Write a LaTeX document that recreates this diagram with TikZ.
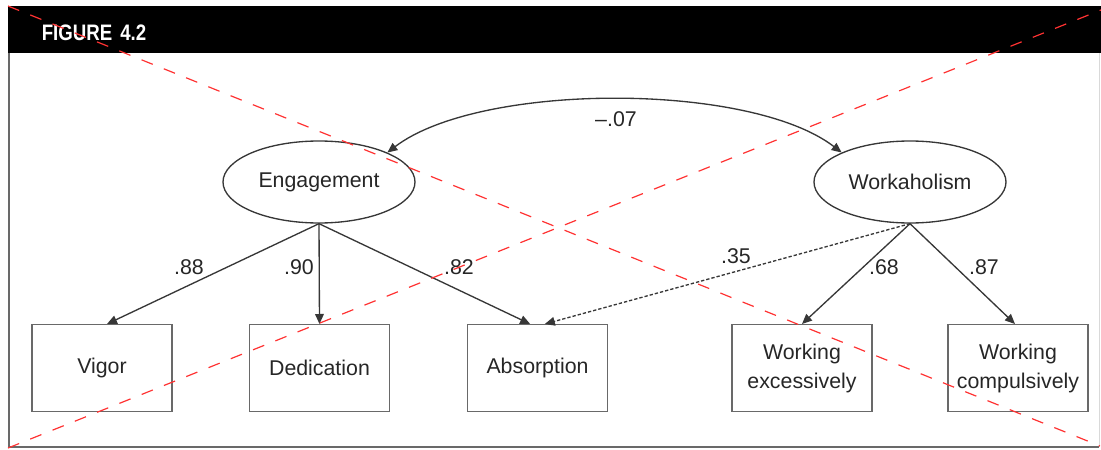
\documentclass[tikz,border=0pt]{standalone}
\usepackage{fontspec}
\setmainfont{Liberation Sans}
\usetikzlibrary{shapes.geometric,arrows.meta}
\definecolor{lineg}{RGB}{55,55,55}
\definecolor{boxg}{RGB}{105,105,105}
\definecolor{crossred}{RGB}{255,50,50}

\begin{document}
\begin{tikzpicture}[x=0.75pt,y=0.75pt,yscale=-1,xscale=1,
  >={Triangle[length=7.5pt,width=6.5pt]},
  every node/.style={font=\fontsize{16}{21.75}\selectfont, text=black!85},
  latent/.style={ellipse, draw=lineg, line width=1pt, minimum width=144pt, minimum height=61.5pt, inner sep=0pt},
  observed/.style={rectangle, draw=boxg, line width=1pt, minimum width=105pt, minimum height=65pt, align=center, inner sep=0pt},
  load/.style={draw=lineg, line width=1pt, ->},
  coef/.style={inner sep=0.75pt}]

\useasboundingbox (0,0) rectangle (1101,450);

% frame and header band
\draw [boxg, line width=1.5pt] (9,53) -- (9,447) -- (1099,447) ;
\draw [black!15, line width=0.75pt] (1099,53) -- (1099,447) ;
\fill (8,6) rectangle (1101,53) ;
\draw (94,33) node [text=white, font=\bfseries\fontsize{14}{14}\selectfont] (fighead) {\scalebox{1}[1.2]{FIGURE\hspace{6pt}4.2}};

% latent factors
\draw (319,182) node [latent] (eng) {Engagement};
\draw (910,182) node [latent] (wor) {Workaholism};

% indicators
\draw (102,368) node [observed] (vig) {Vigor};
\draw (319.5,368) node [observed] (ded) {Dedication};
\draw (537.5,368) node [observed] (abs) {Absorption};
\draw (802,368) node [observed] (wex) {Working\\excessively};
\draw (1018,368) node [observed] (wco) {Working\\compulsively};

% loadings
\draw [load] (eng.south) -- ([xshift=3.75pt]vig.north) ;
\draw [load] (eng.south) -- (ded.north) ;
\draw [load] (eng.south) -- ([xshift=-5.5pt]abs.north) ;
\draw [load, dash pattern=on 2.5pt off 1.5pt] (wor.south) -- ([xshift=5.5pt]abs.north) ;
\draw [load] (wor.south) -- (wex.north) ;
\draw [load] (wor.south) -- ([xshift=-2.25pt]wco.north) ;
\draw [load, <->] (eng.north east) .. controls (480,82) and (750,82) .. (wor.north west) ;

\draw (616,119) node [coef] (lcov) {--.07};
\draw (189,267) node [coef] (l88) {.88};
\draw (299,267) node [coef] (l90) {.90};
\draw (459,267) node [coef] (l82) {.82};
\draw (736,256) node [coef] (l35) {.35};
\draw (884,267) node [coef] (l68) {.68};
\draw (984,267) node [coef] (l87) {.87};

% red cross over the figure
\draw [crossred, line width=0.9pt, dash pattern=on 9pt off 9pt] (8,6) -- (1100,446) ;
\draw [crossred, line width=0.9pt, dash pattern=on 9pt off 9pt] (8,448) -- (1101,10) ;

\end{tikzpicture}
\end{document}
